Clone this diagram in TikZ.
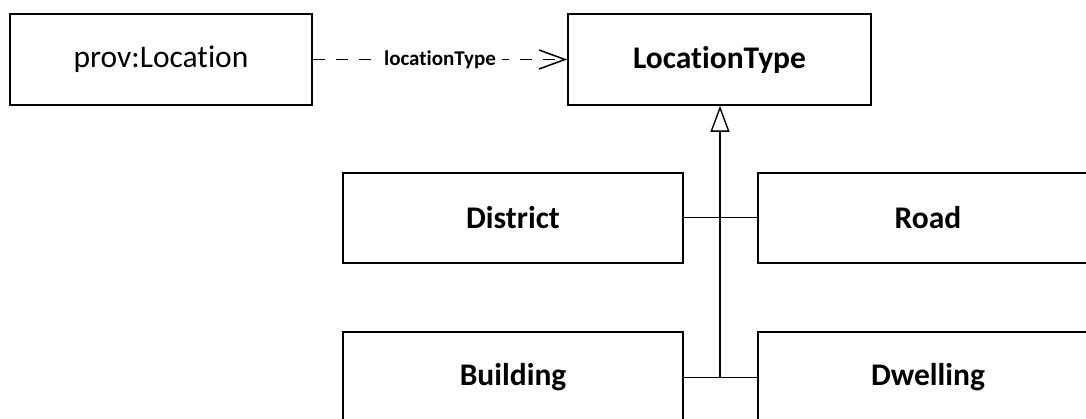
\documentclass[tikz,border=0pt]{standalone}
\usepackage{fontspec}
\setmainfont{Carlito}[Ligatures=NoCommon]
\usetikzlibrary{arrows.meta}
\tikzset{
  classbox/.style={draw=black, line width=1.6pt, fill=white, inner sep=0pt, font=\fontsize{31.5}{36}\selectfont},
  boldbox/.style={classbox, font=\fontsize{31.5}{36}\selectfont\bfseries},
  deplink/.style={line width=1.5pt, dash pattern=on 12pt off 11pt, -{Straight Barb[length=26pt,width=19pt,line width=1.5pt]}},
  deplabel/.style={fill=white, inner xsep=6pt, inner ysep=2pt, font=\fontsize{21}{24}\selectfont\bfseries},
  genlink/.style={line width=1.6pt, -{Triangle[open,length=26pt,width=19pt,line width=1.4pt]}},
  branch/.style={line width=1pt}
}
\begin{document}
\begin{tikzpicture}[x=1pt,y=-1pt]
\useasboundingbox (0,0) rectangle (1086,419);
\clip (0,0) rectangle (1086,419);
\node[classbox, minimum width=302pt, minimum height=91pt] (prov) at (161,59.5) {prov:Location};
\node[boldbox, minimum width=303pt, minimum height=91pt] (ltype) at (719.5,59.5) {LocationType};
\node[boldbox, minimum width=340pt, minimum height=90pt] (district) at (513,218) {District};
\node[boldbox, minimum width=340pt, minimum height=90pt] (road) at (928,218) {Road};
\node[boldbox, minimum width=340pt, minimum height=90pt] (building) at (513,377) {Building};
\node[boldbox, minimum width=340pt, minimum height=90pt] (dwelling) at (928,377) {Dwelling};
\draw[deplink] (prov.east) -- node[deplabel] (lbl) {locationType} (ltype.west);
\coordinate (junction) at (720,377);
\draw[branch] (district.east) -- (road.west);
\draw[branch] (building.east) -- (dwelling.west);
\draw[genlink] (junction) -- (junction |- ltype.south);
\end{tikzpicture}
\end{document}
